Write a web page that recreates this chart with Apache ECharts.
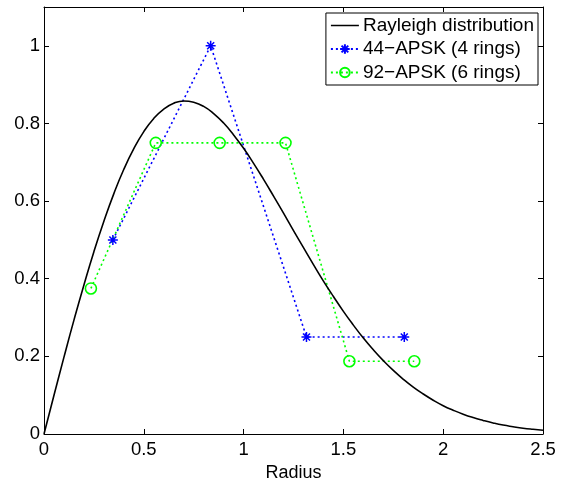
<!DOCTYPE html>
<html><head><meta charset="utf-8">
<script src="https://cdn.jsdelivr.net/npm/echarts@6/dist/echarts.min.js"></script>
<style>html,body{margin:0;padding:0;background:#fff}#c{width:565px;height:479px}</style>
</head><body><div id="c"></div>
<script>
const xTicks = [0, 0.5, 1, 1.5, 2, 2.5];
const yTicks = [0, 0.2, 0.4, 0.6, 0.8, 1];
const rayX = [0,0.05,0.1,0.15,0.2,0.25,0.3,0.35,0.4,0.45,0.5,0.55,0.6,0.65,0.7,0.75,0.8,0.85,0.9,0.95,1.0,1.05,1.1,1.15,1.2,1.25,1.3,1.35,1.4,1.45,1.5,1.55,1.6,1.65,1.7,1.75,1.8,1.85,1.9,1.95,2.0,2.05,2.1,2.15,2.2,2.25,2.3,2.35,2.4,2.45,2.5];
const rayY = [0,0.0998,0.198,0.2933,0.384,0.4697,0.548,0.6193,0.682,0.735,0.779,0.8129,0.837,0.852,0.858,0.8547,0.844,0.8254,0.801,0.7705,0.736,0.6973,0.656,0.6129,0.569,0.524,0.48,0.4364,0.394,0.3542,0.316,0.2805,0.247,0.2168,0.189,0.1637,0.141,0.1207,0.103,0.087,0.073,0.0613,0.051,0.0423,0.035,0.0285,0.023,0.0188,0.015,0.0121,0.0097];
const apsk44X = [0.345, 0.835, 1.315, 1.805];
const apsk44Y = [0.5, 1.0, 0.25, 0.25];
const apsk92X = [0.235, 0.56, 0.88, 1.21, 1.53, 1.855];
const apsk92Y = [0.375, 0.75, 0.75, 0.75, 0.1875, 0.1875];
const names = ['Rayleigh distribution', '44\u2212APSK (4 rings)', '92\u2212APSK (6 rings)'];

const zip = (a, b) => a.map((v, i) => [v, b[i]]);
const font = 'Liberation Sans, Arial, Helvetica, sans-serif';
const chart = echarts.init(document.getElementById('c'));
const axisCommon = {
  axisLine: {show: true, onZero: false, lineStyle: {color: '#000', width: 1}},
  axisTick: {show: true, inside: true, length: 5, lineStyle: {color: '#000'}},
  splitLine: {show: false}
};
chart.setOption({
  animation: false,
  grid: {left: 44, right: 22, top: 7, bottom: 45, containLabel: false, outerBoundsMode: 'none'},
  xAxis: [
    Object.assign({type: 'value', min: 0, max: 2.5, interval: 0.5, position: 'bottom',
      name: 'Radius', nameLocation: 'middle', nameGap: 19,
      nameTextStyle: {color: '#000', fontSize: 18, fontFamily: font, verticalAlign: 'top'},
      axisLabel: {color: '#000', fontSize: 18.5, fontFamily: font, margin: 6,
        formatter: v => xTicks.includes(v) ? String(v) : ''}}, axisCommon),
    Object.assign({type: 'value', min: 0, max: 2.5, interval: 0.5, position: 'top',
      axisLabel: {show: false}}, axisCommon)
  ],
  yAxis: [
    Object.assign({type: 'value', min: 0, max: 1.1, interval: 0.2, position: 'left',
      axisLabel: {color: '#000', fontSize: 18.5, fontFamily: font, margin: 4,
        formatter: v => yTicks.some(t => Math.abs(t - v) < 1e-9) ? String(+v.toFixed(1)) : ''}}, axisCommon),
    Object.assign({type: 'value', min: 0, max: 1.1, interval: 0.2, position: 'right',
      axisLabel: {show: false}}, axisCommon)
  ],
  legend: {
    orient: 'vertical', right: 27, top: 13,
    backgroundColor: '#fff', borderColor: '#000', borderWidth: 1, borderRadius: 0,
    padding: [3, 4, 3, 4], itemGap: 4.5, itemWidth: 28, itemHeight: 12,
    textStyle: {color: '#000', fontSize: 19, fontFamily: font, padding: [0, 0, 0, -1]},
    data: [
      {name: names[0], icon: 'path://M0,0L28,0L28,0.01L0,0.01Z M0,5.2L28,5.2L28,6.8L0,6.8Z M0,12L28,12L28,12.01L0,12.01Z'},
      {name: names[1]},
      {name: names[2]}
    ]
  },
  series: [
    {name: names[0], type: 'line', data: zip(rayX, rayY), smooth: true, symbol: 'none',
      lineStyle: {color: '#000', width: 1.6}, itemStyle: {color: '#000'}, z: 3},
    {name: names[1], type: 'line', data: zip(apsk44X, apsk44Y),
      symbol: 'path://M0,-5L0,5M-5,0L5,0M-3.5,-3.5L3.5,3.5M-3.5,3.5L3.5,-3.5', symbolSize: 10,
      itemStyle: {color: '#0000ff', borderColor: '#0000ff', borderWidth: 1.5},
      lineStyle: {color: '#0000ff', width: 1.6, type: [2, 3]}, z: 2},
    {name: names[2], type: 'line', data: zip(apsk92X, apsk92Y),
      symbol: 'circle', symbolSize: 11,
      itemStyle: {color: 'rgba(255,255,255,0)', borderColor: '#00ff00', borderWidth: 1.6},
      lineStyle: {color: '#00ff00', width: 1.6, type: [2, 3]}, z: 2}
  ]
});
</script></body></html>
